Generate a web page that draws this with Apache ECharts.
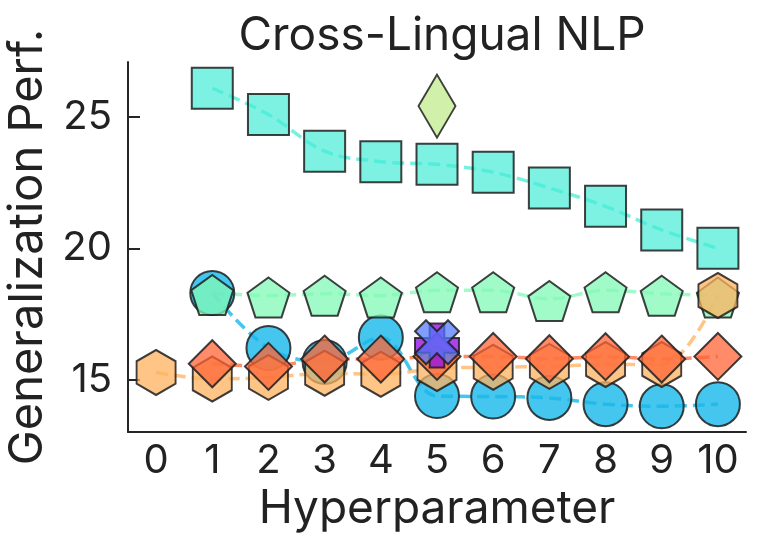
<!DOCTYPE html>
<html><head><meta charset="utf-8">
<script src="https://cdn.jsdelivr.net/npm/echarts@6/dist/echarts.min.js"></script>
<style>html,body{margin:0;padding:0;background:#fff}#c{width:762px;height:547px}</style>
</head><body><div id="c"></div>
<script>
const categories = ['0','1','2','3','4','5','6','7','8','9','10'];
const yTicks = [15, 20, 25];
const squareX = [1,2,3,4,5,6,7,8,9,10];
const squareY = [26.1, 25.1, 23.7, 23.3, 23.2, 22.9, 22.3, 21.6, 20.7, 20.0];
const circleX = [1,2,3,4,5,6,7,8,9,10];
const circleY = [18.3, 16.2, 15.67, 16.6, 14.37, 14.35, 14.3, 14.06, 13.98, 14.06];
const pentagonX = [1,2,3,4,5,6,7,8,9,10];
const pentagonY = [18.3, 18.2, 18.27, 18.2, 18.4, 18.4, 18.07, 18.4, 18.27, 18.2];
const hexagonX = [0,1,2,3,4,5,6,7,8,9,10];
const hexagonY = [15.27, 15.02, 15.08, 15.24, 15.2, 15.42, 15.47, 15.5, 15.57, 15.57, 18.2];
const diamondX = [1,2,3,4,5,6,7,8,9,10];
const diamondY = [15.6, 15.5, 15.78, 15.78, 15.88, 15.88, 15.79, 15.87, 15.78, 15.88];
const thinDiamondX = [5];
const thinDiamondY = [25.42];
const plusX = [5];
const plusY = [16.3];
const xMarkX = [5];
const xMarkY = [16.42];

const PENTAGON = 'path://M100,0 L195.1,69.1 L158.8,180.9 L41.2,180.9 L4.9,69.1 Z';
const HEXAGON = 'path://M86.6,0 L173.2,50 L173.2,150 L86.6,200 L0,150 L0,50 Z';
const PLUS = 'path://M2,0 L4,0 L4,2 L6,2 L6,4 L4,4 L4,6 L2,6 L2,4 L0,4 L0,2 L2,2 Z';
const XMARK = 'path://M150,0 L200,50 L150,100 L200,150 L150,200 L100,150 L50,200 L0,150 L50,100 L0,50 L50,0 L100,50 Z';

const EDGE = 'rgba(30,30,30,0.85)';
const FONT = 'Inter';
function pairs(xs, ys){ return xs.map((x,i)=>[x, ys[i]]); }
function mk(name, xs, ys, symbol, size, fill, lineColor, offset){
  return {
    name, type:'line', data:pairs(xs,ys), symbol, symbolSize:size,
    symbolOffset: offset || [0,0],
    smooth: 0.35,
    itemStyle:{color:fill, borderColor:EDGE, borderWidth:2, opacity:1},
    lineStyle: lineColor ? {color:lineColor, width:3.5, type:[12,6]} : {width:0, opacity:0},
    showAllSymbol:true, animation:false, emphasis:{disabled:true}
  };
}

const chart = echarts.init(document.getElementById('c'), null, {renderer:'canvas'});
chart.setOption({
  animation:false,
  backgroundColor:'#fff',
  title:{text:'Cross-Lingual NLP', left:437, top:8, textAlign:'center',
    textStyle:{fontFamily:FONT, fontSize:46, fontWeight:'normal', color:'#222'}},
  grid:{left:128, right:16, top:62, bottom:115, containLabel:false, outerBoundsMode:'none'},
  xAxis:{type:'category', data:categories, boundaryGap:true,
    name:'Hyperparameter', nameLocation:'middle', nameGap:54,
    nameTextStyle:{fontFamily:FONT, fontSize:46, color:'#222'},
    axisLine:{lineStyle:{color:'#262626', width:2}},
    axisTick:{alignWithLabel:true, inside:true, length:12, lineStyle:{color:'#262626', width:2}},
    axisLabel:{fontFamily:FONT, fontSize:40, color:'#222', margin:9, interval:0},
    splitLine:{show:false}},
  yAxis:{type:'value', min:13, max:27.1,
    name:'Generalization Perf.', nameLocation:'middle', nameGap:39,
    nameTextStyle:{fontFamily:FONT, fontSize:47, color:'#222'},
    axisLine:{show:true, lineStyle:{color:'#262626', width:2}},
    axisTick:{show:true, inside:true, length:12, customValues:yTicks, lineStyle:{color:'#262626', width:2}},
    axisLabel:{fontFamily:FONT, fontSize:40, color:'#222', margin:16, customValues:yTicks},
    splitLine:{show:false}},
  series:[
    mk('square', squareX, squareY, 'rect', [41,41], 'rgba(70,236,214,0.7)', 'rgba(70,236,214,0.75)'),
    mk('circle', circleX, circleY, 'circle', [44,44], 'rgba(22,184,234,0.8)', 'rgba(22,184,234,0.8)'),
    mk('pentagon', pentagonX, pentagonY, PENTAGON, [42,40], 'rgba(130,249,182,0.75)', 'rgba(130,249,182,0.75)', [0,2]),
    mk('hexagon', hexagonX, hexagonY, HEXAGON, [39,45], 'rgba(255,178,95,0.75)', 'rgba(255,178,95,0.75)'),
    mk('diamond', diamondX, diamondY, 'diamond', [47,47], 'rgba(255,100,55,0.75)', 'rgba(255,100,55,0.75)'),
    mk('thindiamond', thinDiamondX, thinDiamondY, 'diamond', [37,63], 'rgba(201,239,156,0.85)', null),
    mk('plus', plusX, plusY, PLUS, [44,44], 'rgba(150,20,230,0.8)', null),
    mk('xmark', xMarkX, xMarkY, XMARK, [44,44], 'rgba(80,120,255,0.72)', null)
  ]
});
</script>
</body></html>
